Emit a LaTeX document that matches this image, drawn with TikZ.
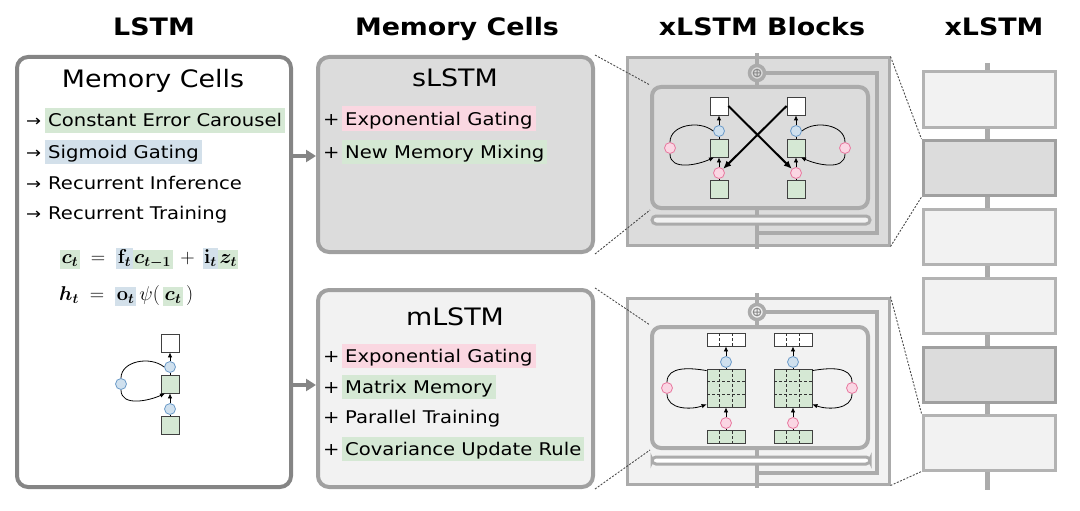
\RequirePackage{fix-cm}
\documentclass[tikz,border=0pt]{standalone}
\usepackage{fontspec}
\setmainfont{DejaVu Sans}[FakeStretch=1.12]
\usepackage{amsmath}
\usetikzlibrary{arrows.meta,positioning}

\definecolor{hlgreen}{HTML}{D5E8D4}
\definecolor{hlblue}{HTML}{D3E0EA}
\definecolor{hlpink}{HTML}{FAD7E1}
\definecolor{circblue}{HTML}{CFE0EE}
\definecolor{circblueline}{HTML}{6C9BC9}
\definecolor{circpink}{HTML}{FAD6E3}
\definecolor{circpinkline}{HTML}{E8789F}
\definecolor{cellgray}{HTML}{DCDCDC}
\definecolor{celllight}{HTML}{F2F2F2}
\definecolor{lstmline}{HTML}{858585}
\definecolor{cellline}{HTML}{A0A0A0}
\definecolor{blockline}{HTML}{ABABAB}

\newcommand{\hlg}[1]{{\setlength{\fboxsep}{1.5pt}\colorbox{hlgreen}{\rule[-4pt]{0pt}{15.5pt}\boldmath$#1$}}}
\newcommand{\hlb}[1]{{\setlength{\fboxsep}{1.5pt}\colorbox{hlblue}{\rule[-4pt]{0pt}{15.5pt}\boldmath$#1$}}}

\begin{document}
\begin{tikzpicture}[x=1pt,y=-1pt,
  hd/.style={font=\fontsize{24}{24}\selectfont\bfseries, anchor=base},
  ttl/.style={font=\fontsize{24}{24}\selectfont, anchor=base},
  txt/.style={font=\fontsize{17.5}{17.5}\selectfont, anchor=base west, inner xsep=3, inner ysep=2.5, text height=16, text depth=3.5},
  bul/.style={font=\fontsize{16}{16}\selectfont, anchor=base west, inner sep=0},
  sq/.style={draw=black!75, minimum size=18, inner sep=0, line width=0.8},
  vec/.style={draw=black!75, minimum width=38, minimum height=13, inner sep=0, line width=0.8},
  mat/.style={draw=black!75, fill=hlgreen, minimum size=38, inner sep=0, line width=0.8},
  bc/.style={circle, draw=circblueline, fill=circblue, minimum size=11, inner sep=0, line width=0.8},
  pc/.style={circle, draw=circpinkline, fill=circpink, minimum size=11, inner sep=0, line width=0.8},
  arr/.style={-{Latex[length=5,width=4.5]}, line width=0.8},
  xarr/.style={-{Latex[length=8,width=7]}, line width=2},
  grid/.style={densely dashed, line width=0.6, black!80},
  gl/.style={draw=blockline, line width=4},
  zl/.style={dash pattern=on 2pt off 1.5pt, line width=0.9, black!70},
  cellbox/.style={draw=cellline, line width=4, rounded corners=11, inner sep=0},
  outer/.style={draw=blockline, line width=3, inner sep=0, minimum width=262},
  inner/.style={draw=blockline, line width=4, rounded corners=9, inner sep=0, minimum width=216, minimum height=121},
  add/.style={circle, draw=blockline, line width=3.5, minimum size=15, inner sep=0},
  col/.style={line width=3, inner sep=0, minimum width=132, minimum height=55}]
  \useasboundingbox (0,0) rectangle (1080,511);

  %titulos
  \node[hd] (h1) at (154,36) {LSTM};
  \node[hd] (h2) at (457,36) {Memory Cells};
  \node[hd] (h3) at (762,36) {xLSTM Blocks};
  \node[hd] (h4) at (994,36) {xLSTM};

  %caixa lstm
  \node[cellbox, draw=lstmline, fill=white, minimum width=274, minimum height=430] (lstm) at (154,272) {};
  \node[ttl] (lt) at (153,88) {Memory Cells};
  \node[bul] (b1) at (26,127) {→};
  \node[txt, fill=hlgreen] (l1) at (45,127) {Constant Error Carousel};
  \node[bul] (b2) at (26,158) {→};
  \node[txt, fill=hlblue] (l2) at (45,158) {Sigmoid Gating};
  \node[bul] (b3) at (26,189) {→};
  \node[txt] (l3) at (45,189) {Recurrent Inference};
  \node[bul] (b4) at (26,219) {→};
  \node[txt] (l4) at (45,219) {Recurrent Training};

  \node[anchor=base west, inner sep=0, font=\fontsize{20}{20}\selectfont] (eq1) at (60,263)
    {$\hlg{c_t}\;=\;\hlb{\mathbf{f}_t}\hlg{c_{t-1}}\,+\,\hlb{\mathbf{i}_t}\hlg{z_t}$};
  \node[anchor=base west, inner sep=0, font=\fontsize{20}{20}\selectfont] (eq2) at (59,300)
    {$\boldsymbol{h_t}\;=\;\hlb{\mathbf{o}_t}\,\psi(\,\hlg{c_t}\,)$};

  %celula lstm
  \node[sq, fill=white] (lh) at (170,343) {};
  \node[bc] (lo) at (170,367) {};
  \node[sq, fill=hlgreen] (lc) at (170,384) {};
  \node[bc] (li) at (170,409) {};
  \node[sq, fill=hlgreen] (lz) at (170,425) {};
  \node[bc] (lf) at (121,384) {};
  \draw[line width=0.8] (lc) -- (lo);
  \draw[arr] (lo) -- (lh);
  \draw[line width=0.8] (lz) -- (li);
  \draw[arr] (li) -- (lc);
  \draw[line width=0.8] (lo.west) to[out=140,in=90] (lf);
  \draw[arr] (lf) to[out=-90,in=205] ([xshift=-5]lc.south);

  %memory cells
  \node[cellbox, fill=cellgray, minimum width=275, minimum height=195] (scell) at (455.5,154.5) {};
  \node[ttl] (st) at (455,87) {sLSTM};
  \node[bul, font=\fontsize{17.5}{17.5}\selectfont] (p1) at (323,125) {+};
  \node[txt, fill=hlpink] (s1) at (342,125) {Exponential Gating};
  \node[bul, font=\fontsize{17.5}{17.5}\selectfont] (p2) at (323,158) {+};
  \node[txt, fill=hlgreen] (s2) at (342,158) {New Memory Mixing};

  \node[cellbox, fill=celllight, minimum width=275, minimum height=197] (mcell) at (455.5,388.5) {};
  \node[ttl] (mt) at (455,325) {mLSTM};
  \node[bul, font=\fontsize{17.5}{17.5}\selectfont] (p3) at (323,362) {+};
  \node[txt, fill=hlpink] (m1) at (342,362) {Exponential Gating};
  \node[bul, font=\fontsize{17.5}{17.5}\selectfont] (p4) at (323,393) {+};
  \node[txt, fill=hlgreen] (m2) at (342,393) {Matrix Memory};
  \node[bul, font=\fontsize{17.5}{17.5}\selectfont] (p5) at (323,423) {+};
  \node[txt] (m3) at (342,423) {Parallel Training};
  \node[bul, font=\fontsize{17.5}{17.5}\selectfont] (p6) at (323,455) {+};
  \node[txt, fill=hlgreen] (m4) at (342,455) {Covariance Update Rule};

  \coordinate (a1) at (0,156);
  \coordinate (a2) at (0,385);
  \draw[-{Triangle[length=10,width=12]}, line width=4, lstmline] (lstm.east |- a1) -- (scell.west |- a1);
  \draw[-{Triangle[length=10,width=12]}, line width=4, lstmline] (lstm.east |- a2) -- (mcell.west |- a2);

  %bloco slstm
  \node[outer, fill=cellgray, minimum height=187] (sout) at (758,151.5) {};
  \draw[gl] (757,53) -- (757,249);
  \node[inner, fill=cellgray] (sblk) at (760,147.5) {};
  \draw[draw=blockline, line width=3, fill=celllight, rounded corners=4] (652,216) rectangle (870,224);
  \node[add, fill=cellgray] (sadd) at (757,73) {};
  \draw[blockline!80!black, line width=1] (sadd.center) circle (3.8)
    (sadd.center) ++(-3.8,0) -- ++(7.6,0) (sadd.center) ++(0,-3.8) -- ++(0,7.6);
  \draw[gl] (sadd.east) -| (877,233) -- (757,233);

  \foreach \cx/\n in {719/a,796/b}{
    \node[sq, fill=white] (sh\n) at (\cx,106) {};
    \node[bc] (so\n) at (\cx,131) {};
    \node[sq, fill=hlgreen] (sc\n) at (\cx,148) {};
    \node[pc] (si\n) at (\cx,173) {};
    \node[sq, fill=hlgreen] (sz\n) at (\cx,189) {};
    \draw[line width=0.8] (sc\n) -- (so\n);
    \draw[arr] (so\n) -- (sh\n);
    \draw[line width=0.8] (sz\n) -- (si\n);
    \draw[arr] (si\n) -- (sc\n);
  }
  \node[pc] (sfa) at (670,148) {};
  \node[pc] (sfb) at (845,148) {};
  \draw[line width=0.8] (soa.west) to[out=140,in=90] (sfa);
  \draw[arr] (sfa) to[out=-90,in=205] ([xshift=-5]sca.south);
  \draw[line width=0.8] (sob.east) to[out=40,in=90] (sfb);
  \draw[arr] (sfb) to[out=-90,in=-25] ([xshift=5]scb.south);
  \draw[xarr] (sha.east) -- (sib);
  \draw[xarr] (shb.west) -- (sia);

  %bloco mlstm
  \node[outer, fill=celllight, minimum height=186] (mout) at (758,391) {};
  \draw[gl] (757,293) -- (757,488);
  \node[inner, fill=celllight] (mblk) at (760,387.5) {};
  \draw[draw=blockline, line width=3, fill=white, rounded corners=4] (652,457) rectangle (870,464);
  \node[add, fill=celllight] (madd) at (757,312) {};
  \draw[blockline!80!black, line width=1] (madd.center) circle (3.8)
    (madd.center) ++(-3.8,0) -- ++(7.6,0) (madd.center) ++(0,-3.8) -- ++(0,7.6);
  \draw[gl] (madd.east) -| (877,473) -- (757,473);

  \foreach \cx/\n in {726/a,793/b}{
    \node[vec, fill=white] (mh\n) at (\cx,339.5) {};
    \node[bc] (mo\n) at (\cx,362) {};
    \node[mat] (mc\n) at (\cx,388) {};
    \node[pc] (mi\n) at (\cx,423) {};
    \node[vec, fill=hlgreen] (mk\n) at (\cx,437) {};
    \foreach \d in {-6.33,6.33}{
      \draw[grid] (\cx+\d,333) -- (\cx+\d,346);
      \draw[grid] (\cx+\d,431) -- (\cx+\d,443);
      \draw[grid] (\cx+\d,369) -- (\cx+\d,407);
      \draw[grid] (\cx-19,388+\d) -- (\cx+19,388+\d);
    }
    \draw[line width=0.8] (mc\n) -- (mo\n);
    \draw[arr] (mo\n) -- (mh\n);
    \draw[line width=0.8] (mk\n) -- (mi\n);
    \draw[arr] (mi\n) -- (mc\n);
  }
  \node[pc] (mfa) at (667,388) {};
  \node[pc] (mfb) at (852,388) {};
  \draw[line width=0.8] ([yshift=-2]mca.north west) to[out=170,in=90] (mfa);
  \draw[arr] (mfa) to[out=-90,in=200] ([yshift=3]mca.south west);
  \draw[line width=0.8] ([yshift=-2]mcb.north east) to[out=10,in=90] (mfb);
  \draw[arr] (mfb) to[out=-90,in=-20] ([yshift=3]mcb.south east);

  %coluna xlstm
  \draw[line width=5, blockline] (987,63) -- (987,490);
  \node[col, draw=blockline!90, fill=celllight] (x1) at (989,99.5) {};
  \node[col, draw=cellline, fill=cellgray] (x2) at (989,168) {};
  \node[col, draw=blockline!90, fill=celllight] (x3) at (989,237) {};
  \node[col, draw=blockline!90, fill=celllight] (x4) at (989,306) {};
  \node[col, draw=cellline, fill=cellgray] (x5) at (989,374.5) {};
  \node[col, draw=blockline!90, fill=celllight] (x6) at (989,442.5) {};

  %linhas de zoom
  \draw[zl] (scell.north east) -- (sblk.north west);
  \draw[zl] (scell.south east) -- (sblk.south west);
  \draw[zl] (mcell.north east) -- (mblk.north west);
  \draw[zl] (mcell.south east) -- (mblk.south west);
  \draw[zl] (sout.north east) -- (x2.north west);
  \draw[zl] (sout.south east) -- (x2.south west);
  \draw[zl] (mout.north east) -- (x6.north west);
  \draw[zl] (mout.south east) -- (x6.south west);
\end{tikzpicture}
\end{document}
